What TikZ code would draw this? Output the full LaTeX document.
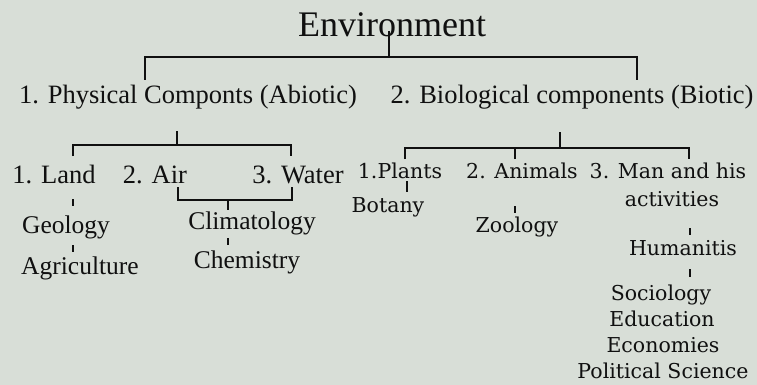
\documentclass[tikz,border=0pt]{standalone}
\usepackage{fontspec}
\setmainfont{Liberation Serif}
\newfontfamily\dvs{DejaVu Serif}
\definecolor{bg}{RGB}{216,222,215}
\definecolor{ink}{RGB}{16,16,16}
\begin{document}
\begin{tikzpicture}[x=1pt,y=-1pt,
  lab/.style={inner sep=0pt, anchor=base, text=ink},
  big/.style={lab, font=\fontsize{36}{40}\selectfont},
  mid/.style={lab, font=\fontsize{26.5}{30}\selectfont},
  sml/.style={lab, font=\fontsize{25.5}{30}\selectfont},
  rt/.style={lab, font=\dvs\fontsize{20.5}{24}\selectfont},
  ln/.style={draw=ink, line width=2.8pt},
  tk/.style={draw=ink, line width=2.5pt}]
\fill[bg] (0,0) rectangle (757,385);
\useasboundingbox (0,0) rectangle (757,385);
% texts
\node[big] (env) at (392,37) {Environment};
\node[mid] (phys) at (188,104) {1. Physical Componts (Abiotic)};
\node[mid] (bio) at (572,104) {2. Biological components (Biotic)};
\node[mid] (land) at (54,183) {1. Land};
\node[mid] (air) at (155,183) {2. Air};
\node[mid] (water) at (298,183) {3. Water};
\node[sml] (geo) at (66,233) {Geology};
\node[sml] (agr) at (80,274) {Agriculture};
\node[sml] (cli) at (252,229) {Climatology};
\node[sml] (che) at (247,268) {Chemistry};
\node[rt] (pla) at (400,178) {1.Plants};
\node[rt] (ani) at (522,178) {2. Animals};
\node[rt] (man) at (668,178) {3. Man and his};
\node[rt] (act) at (672,206) {activities};
\node[rt] (bot) at (388,212) {Botany};
\node[rt] (zoo) at (517,232) {Zoology};
\node[rt] (hum) at (683,255) {Humanitis};
\node[rt] (soc) at (661,300) {Sociology};
\node[rt] (edu) at (662,326) {Education};
\node[rt] (eco) at (663,352) {Economies};
\node[rt] (pol) at (663,378) {Political Science};
% top bracket
\coordinate (e0) at (389,31);
\coordinate (e1) at (389,57);
\coordinate (p0) at (145,80);
\coordinate (b0) at (637,80);
\draw[ln] (e0) -- (e1);
\draw[ln] (p0) |- (e1) -| (b0);
% physical bracket
\coordinate (ph0) at (177,131);
\coordinate (ph1) at (177,145);
\coordinate (l0) at (73,156);
\coordinate (w0) at (291,156);
\draw[ln] (ph0) -- (ph1);
\draw[ln] (l0) |- (ph1) -| (w0);
% air-water bracket
\coordinate (aw0) at (178,187);
\coordinate (aw1) at (292,187);
\coordinate (aw2) at (228,200);
\coordinate (aw3) at (228,210);
\draw[ln] (aw0) |- (aw2) -| (aw1);
\draw[ln] (aw2) -- (aw3);
% land / chemistry ticks
\draw[tk] (73,199) -- (73,206);
\draw[tk] (73,245) -- (73,252);
\draw[tk] (228,238) -- (228,245);
% biological bracket
\coordinate (bi0) at (560,132);
\coordinate (bi1) at (560,148);
\coordinate (pl0) at (405,159);
\coordinate (an0) at (515,159);
\coordinate (mn0) at (689,159);
\draw[ln] (bi0) -- (bi1);
\draw[ln] (pl0) |- (bi1) -| (mn0);
\draw[ln] (an0) -- (an0 |- bi1);
% right ticks
\draw[tk] (407,181) -- (407,192);
\draw[tk] (515,206) -- (515,213);
\draw[tk] (690,228) -- (690,235);
\draw[tk] (690,269) -- (690,277);
\end{tikzpicture}
\end{document}
